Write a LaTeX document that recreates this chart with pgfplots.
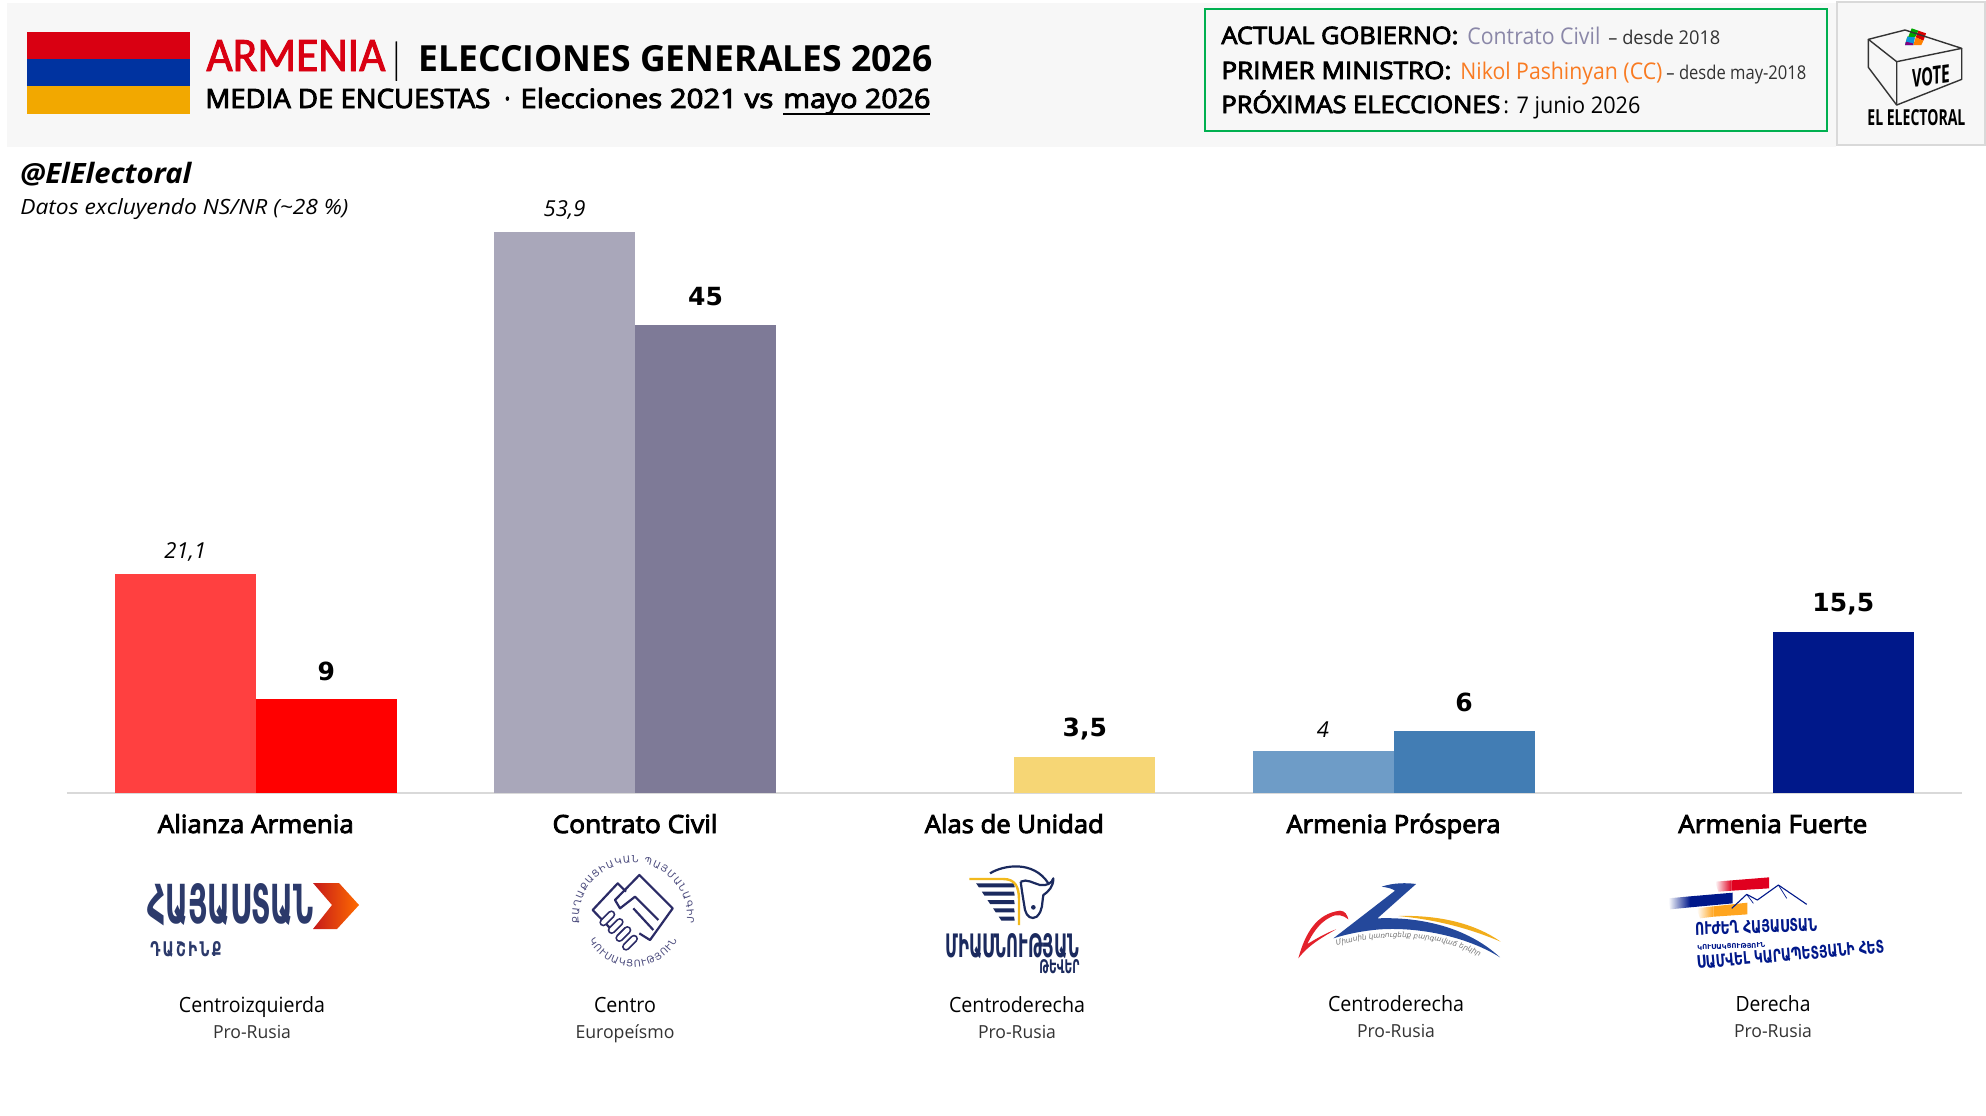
\documentclass[border=0pt]{standalone}
\usepackage{fontspec}
\usepackage{graphicx}
\usepackage{pgfplots}
\pgfplotsset{compat=1.18}
\usetikzlibrary{decorations.text}
\setmainfont{Open Sans}
\newfontfamily\semi[FakeBold=3.5]{Open Sans}
\newfontfamily\cali[FakeBold=2]{Carlito}
\newfontfamily\dv{DejaVu Sans}
% picture is laid out in reference pixels, 1px = 0.5pt
\definecolor{bg}{HTML}{F7F7F7}
\definecolor{rule}{HTML}{D9D9D9}
\definecolor{flagr}{HTML}{D90012}
\definecolor{flagb}{HTML}{0033A0}
\definecolor{flago}{HTML}{F2A800}
\definecolor{boxg}{HTML}{00B050}
\definecolor{ccgray}{HTML}{8A87A8}
\definecolor{pmor}{HTML}{F97B22}
\definecolor{navy}{HTML}{2B2B66}
\definecolor{hay}{HTML}{2C3A6B}
\definecolor{bluep}{HTML}{24489B}
\definecolor{goldp}{HTML}{F2AE1C}
\definecolor{redp}{HTML}{E3212B}
\definecolor{fnavy}{HTML}{00188A}
\definecolor{fred}{HTML}{E0001F}
\definecolor{foran}{HTML}{FFA51F}
\definecolor{alasg}{HTML}{F2B91D}
\definecolor{alasn}{HTML}{1B2A5E}
\newcommand\fit[2]{\resizebox{\dimexpr #1pt/2\relax}{\height}{#2}}
\newcommand\fitwh[3]{\resizebox{\dimexpr #1pt/2\relax}{\dimexpr #2pt/2\relax}{#3}}
\newcommand\TL[4]{\node[anchor=base west,inner sep=0pt] at (#1,#2) {\fit{#3}{#4}};}
\newcommand\TC[4]{\node[anchor=base,inner sep=0pt] at (#1,#2) {\fit{#3}{#4}};}
\pgfplotsset{
  v21/.style={ybar,draw=none,bar width=70.5pt,bar shift=-35.25pt,point meta=explicit symbolic,
    nodes near coords,every node near coord/.append style={anchor=center,xshift=-35.25pt,yshift=11pt,text=black,
      font=\fontsize{11}{13}\selectfont\itshape}},
  v26/.style={ybar,draw=none,bar width=70.5pt,bar shift=35.25pt,point meta=explicit symbolic,
    nodes near coords,every node near coord/.append style={anchor=center,xshift=35.25pt,yshift=14pt,text=black,
      font=\fontsize{12.5}{15}\selectfont\dv\bfseries}},
}
\begin{document}
\begin{tikzpicture}
\useasboundingbox (0pt,0pt) rectangle (993pt,-557.5pt);
\fill[white] (0pt,0pt) rectangle (993pt,-557.5pt);

\begin{axis}[
    at={(33.4pt,-396.5pt)},anchor=south west,
    scale only axis,width=947.5pt,height=301.7pt,
    xmin=-0.4984,xmax=4.4984,ymin=0,ymax=58,
    axis x line=bottom,hide y axis,
    x axis line style={-,draw=rule,line width=1pt},
    xtick={0,1,2,3,4},
    major tick length=0pt,
    xticklabels={\fit{196}{Alianza Armenia},\fit{165}{Contrato Civil},\fit{179}{Alas de Unidad},\fit{214}{Armenia Próspera},\fit{189}{Armenia Fuerte}},
    xticklabel style={anchor=base,yshift=-20pt,font=\fontsize{12.5}{14}\selectfont\semi,text=black},
    clip=false,
]
\addplot[v21,fill={rgb,255:red,255;green,64;blue,64}] coordinates {(0,21.1) [21,1]};
\addplot[v26,fill={rgb,255:red,255;green,0;blue,0}] coordinates {(0,9) [9]};
\addplot[v21,fill={rgb,255:red,169;green,167;blue,186}] coordinates {(1,53.9) [53,9]};
\addplot[v26,fill={rgb,255:red,126;green,122;blue,151}] coordinates {(1,45) [45]};
\addplot[v26,fill={rgb,255:red,246;green,214;blue,117}] coordinates {(2,3.5) [3,5]};
\addplot[v21,fill={rgb,255:red,110;green,156;blue,199}] coordinates {(3,4) [4]};
\addplot[v26,fill={rgb,255:red,66;green,125;blue,180}] coordinates {(3,6) [6]};
\addplot[v26,fill={rgb,255:red,0;green,24;blue,138}] coordinates {(4,15.5) [15,5]};
\end{axis}

\begin{scope}[x=0.5pt,y=-0.5pt]
% header
\fill[bg] (7,3) rectangle (1836,147);
\fill[flagr] (27,32) rectangle (190,59);
\fill[flagb] (27,59) rectangle (190,86.3);
\fill[flago] (27,86.3) rectangle (190,114);
\node[anchor=base west,inner sep=0pt,text=flagr] at (206,71) {\fit{179}{\fontsize{24}{26}\selectfont\cali ARMENIA}};
\TL{392}{71}{8}{\fontsize{19}{20}\selectfont\semi |}
\TL{418}{71}{514}{\fontsize{18}{20}\selectfont\bfseries ELECCIONES GENERALES 2026}
\TL{205}{108}{285}{\fontsize{13.3}{15}\selectfont\semi MEDIA DE ENCUESTAS}
\TL{504}{108}{6}{\fontsize{13.3}{15}\selectfont\semi ·}
\TL{520}{108}{253}{\fontsize{13.3}{15}\selectfont\semi Elecciones 2021 vs}
\TL{783}{108}{147}{\fontsize{13.3}{15}\selectfont\semi mayo 2026}
\draw[black,line width=1pt] (783,113.5) -- (930,113.5);
\TL{20}{183}{171}{\fontsize{14}{16}\selectfont\bfseries\itshape @ElElectoral}
\TL{20}{214}{328}{\fontsize{10.5}{12}\selectfont\itshape Datos excluyendo NS/NR (\textasciitilde 28 \%)}

% government box
\draw[boxg,line width=1.2pt] (1205,9) rectangle (1827,131);
\TL{1221}{44}{237}{\fontsize{12}{14}\selectfont\semi ACTUAL GOBIERNO:}
\TL{1467}{44}{133}{\fontsize{11.5}{13}\selectfont\color{ccgray}Contrato Civil}
\TL{1608}{44}{112}{\fontsize{9.5}{11}\selectfont\color{black!80}– desde 2018}
\TL{1221}{79}{230}{\fontsize{12}{14}\selectfont\semi PRIMER MINISTRO:}
\TL{1460}{79}{202}{\fontsize{11.5}{13}\selectfont\color{pmor}Nikol Pashinyan (CC)}
\TL{1666}{79}{140}{\fontsize{9.5}{11}\selectfont\color{black!80}– desde may-2018}
\TL{1221}{113}{279}{\fontsize{12}{14}\selectfont\semi PRÓXIMAS ELECCIONES}
\TL{1503}{113}{137}{\fontsize{11.5}{13}\selectfont : 7 junio 2026}

% el electoral box
\draw[rule,fill=bg,line width=1pt] (1837,2) rectangle (1985,145);
\begin{scope}[shift={(1850,10)},x=0.1667pt,y=-0.1667pt]
\fill[green!65!black] (165,105) -- (185,55) -- (205,62) -- (195,82) -- (172,80) -- cycle;
\fill[red!85!black] (205,62) -- (228,70) -- (220,92) -- (197,82) -- cycle;
\fill[cyan!80!blue] (172,80) -- (195,82) -- (190,105) -- (165,105) -- cycle;
\fill[orange] (197,82) -- (220,92) -- (214,105) -- (190,105) -- cycle;
\fill[violet] (165,105) -- (190,105) -- (188,100) -- (168,95) -- cycle;
\draw[black!80,line width=0.7pt,line join=round] (55,88) -- (165,60) -- (335,115) -- (140,155) -- cycle;
\draw[black!80,line width=0.7pt,line join=round] (55,88) -- (55,172) -- (140,285) -- (140,155);
\draw[black!80,line width=0.7pt,line join=round] (140,285) -- (335,208) -- (335,115);
\node[inner sep=0pt,rotate=8] at (242,198) {\fitwh{38}{18}{\bfseries\itshape VOTE}};
\end{scope}
\node[anchor=base west,inner sep=0pt] at (1867,125) {\fitwh{98}{16}{\bfseries EL ELECTORAL}};

% party notes
\TC{252}{1012}{146}{\fontsize{10.5}{12}\selectfont Centroizquierda}
\TC{252}{1038}{78}{\fontsize{9}{10}\selectfont\color{black!80}Pro-Rusia}
\TC{625}{1012}{62}{\fontsize{10.5}{12}\selectfont Centro}
\TC{625}{1038}{99}{\fontsize{9}{10}\selectfont\color{black!80}Europeísmo}
\TC{1017}{1012}{136}{\fontsize{10.5}{12}\selectfont Centroderecha}
\TC{1017}{1038}{78}{\fontsize{9}{10}\selectfont\color{black!80}Pro-Rusia}
\TC{1396}{1011}{136}{\fontsize{10.5}{12}\selectfont Centroderecha}
\TC{1396}{1037}{78}{\fontsize{9}{10}\selectfont\color{black!80}Pro-Rusia}
\TC{1773}{1011}{75}{\fontsize{10.5}{12}\selectfont Derecha}
\TC{1773}{1037}{78}{\fontsize{9}{10}\selectfont\color{black!80}Pro-Rusia}

% logo Alianza Armenia
\shade[left color=red!75!black!90,right color=orange!85!red] (313,883) -- (339,883) -- (359,905) -- (337,929) -- (313,929) -- (332,905) -- cycle;
\node[anchor=base west,inner sep=0pt,text=hay] at (147,923) {\fitwh{166}{40}{\dv\bfseries ՀԱՅԱՍՏԱՆ}};
\node[anchor=base west,inner sep=0pt,text=hay] at (150,956) {\fitwh{71}{15}{\dv\bfseries Դ\,Ա\,Շ\,Ի\,Ն\,Ք}};

% logo Contrato Civil
\begin{scope}[shift={(550,840)},x=0.1667pt,y=-0.1667pt]
\draw[navy,line width=1.1pt,line join=round] (178,262) -- (128,210) -- (203,130) -- (228,155);
\draw[navy,line width=1.1pt,line join=round] (268,280) -- (300,300) -- (368,205) -- (268,105) -- (195,180) -- (210,205) -- (255,170) -- (325,240);
\draw[navy,line width=1.1pt] (250,205) -- (310,270);
\foreach \a/\b in {172/235,197/258,220/282,240/308} {
  \draw[navy,line width=4pt,line cap=round] (\a-12,\b+12) -- (\a+12,\b-12);
  \draw[white,line width=2.2pt,line cap=round] (\a-12,\b+12) -- (\a+12,\b-12);
}
\end{scope}
\begin{scope}[shift={(633,917)},x=1pt,y=1pt]
\path[decorate,decoration={text along path,text align={fit to path},
  text={|\dv\fontsize{4.8}{5}\selectfont\color{navy!85}|ՔԱՂԱՔԱՑԻԱԿԱՆ ՊԱՅՄԱՆԱԳԻՐ}}]
  (187:27pt) arc[start angle=187,end angle=-7,radius=27pt];
\path[decorate,decoration={text along path,text align={fit to path},
  text={|\dv\fontsize{4.8}{5}\selectfont\color{navy!85}|ԿՈՒՍԱԿՑՈՒԹՅՈՒՆ}}]
  (208:25pt) arc[start angle=208,end angle=332,radius=25pt];
\end{scope}

% logo Alas de Unidad
\begin{scope}[shift={(920,850)},x=0.1667pt,y=-0.1667pt]
\foreach \t/\b in {100/112,125/137,150/162,175/187,200/212} {
  \fill[alasn] ({165+(\t-95)*0.677},\t) -- (282,\t) -- (284,\b) -- ({165+(\b-95)*0.677},\b) -- cycle;
}
\draw[alasg,line width=1.2pt] (148,87) -- (250,87) .. controls (285,87) and (297,110) .. (297,150) -- (297,225);
\draw[alasn,line width=1.1pt,line join=round] (210,70) .. controls (250,45) and (340,30) .. (385,100);
\draw[alasn,line width=1.1pt,line join=round] (302,95) .. controls (320,85) and (340,100) .. (360,105) .. controls (380,108) and (395,100) .. (400,85) .. controls (400,110) and (385,125) .. (370,135) .. controls (365,160) and (370,180) .. (350,200) .. controls (335,210) and (320,200) .. (315,180) .. controls (310,150) and (305,120) .. (302,95);
\fill[alasn] (340,172) circle[radius=7];
\end{scope}
\node[anchor=base west,inner sep=0pt,text=alasn] at (945,957) {\fitwh{134}{24}{\dv\bfseries ՄԻԱՍՆՈՒԹՅԱՆ}};
\node[anchor=base west,inner sep=0pt,text=alasn] at (1039,973) {\fitwh{40}{14}{\dv\bfseries ԹԵՎԵՐ}};

% logo Armenia Prospera
\begin{scope}[shift={(1280,870)},x=0.1667pt,y=-0.1667pt]
\fill[redp] (55,265) .. controls (75,190) and (110,130) .. (180,122) .. controls (195,122) and (202,135) .. (205,148) .. controls (190,135) and (170,130) .. (150,142) .. controls (115,160) and (95,195) .. (82,222) .. controls (110,205) and (140,188) .. (168,178) .. controls (130,200) and (85,225) .. cycle;
\fill[goldp] (355,138) .. controls (450,135) and (570,150) .. (662,215) .. controls (580,180) and (480,150) .. (355,138) -- cycle;
\fill[bluep] (160,205) -- (345,62) .. controls (335,55) and (320,52) .. (305,50) .. controls (340,38) and (380,38) .. (408,42) -- (292,145) .. controls (420,140) and (560,170) .. (660,262) .. controls (570,205) and (430,170) .. (300,178) .. controls (250,182) and (200,192) .. (160,205) -- cycle;
\end{scope}
\path[decorate,decoration={text along path,text align=center,
  text={|\dv\itshape\fontsize{3.6}{4}\selectfont\color{black!55}|Միասին կառուցենք բարգավաճ երկիր}}]
  (1336,946) .. controls (1385,932) and (1440,935) .. (1480,957);

% logo Armenia Fuerte
\begin{scope}[shift={(1650,865)},x=0.1667pt,y=-0.1667pt]
\shade[left color=white,right color=fred] (195,50) -- (245,46) -- (245,77) -- (205,80) -- cycle;
\fill[fred] (245,46) -- (357,37) -- (357,70) -- (245,77) -- cycle;
\shade[left color=white,right color=fnavy] (55,100) -- (120,94) -- (120,127) -- (60,133) -- cycle;
\fill[fnavy] (120,94) -- (248,83) -- (248,115) -- (120,127) -- cycle;
\shade[left color=white,right color=foran] (140,130) -- (190,124) -- (190,155) -- (150,160) -- cycle;
\fill[foran] (190,124) -- (292,113) -- (292,148) -- (190,155) -- cycle;
\draw[fnavy,line width=0.55pt,line join=round] (245,130) -- (290,88) -- (322,105) -- (385,60) -- (470,118);
\draw[fnavy,line width=0.35pt] (290,88) -- (310,115) (385,60) -- (410,100);
\end{scope}
\node[anchor=base west,inner sep=0pt,text=fnavy,rotate=2] at (1695,935) {\fitwh{122}{13}{\dv\bfseries ՈՒԺԵՂ ՀԱՅԱՍՏԱՆ}};
\node[anchor=base west,inner sep=0pt,text=fnavy,rotate=2] at (1697,950) {\fitwh{68}{5}{\dv\bfseries ԿՈՒՍԱԿՑՈՒԹՅՈՒՆ}};
\node[anchor=base west,inner sep=0pt,text=fnavy,rotate=5] at (1697,969) {\fitwh{188}{13}{\dv\bfseries ՍԱՄՎԵԼ ԿԱՐԱՊԵՏՅԱՆԻ ՀԵՏ}};
\end{scope}
\end{tikzpicture}
\end{document}
